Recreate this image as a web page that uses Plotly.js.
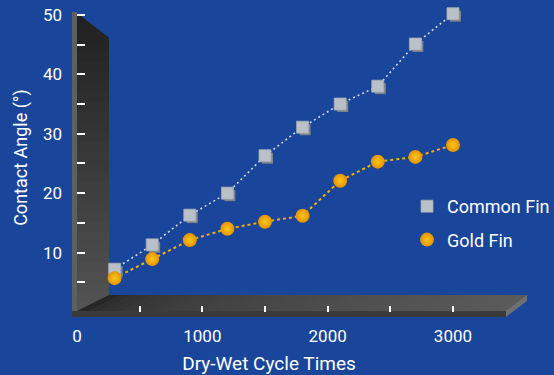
<!DOCTYPE html>
<html>
<head>
<meta charset="utf-8">
<script src="https://cdn.plot.ly/plotly-3.0.1.min.js"></script>
<style>html,body{margin:0;padding:0;background:#19459a;}#chart{width:554px;height:375px;}</style>
</head>
<body>
<div id="chart"></div>
<script>
// ---- data ----
const cycleTimes = [300, 600, 900, 1200, 1500, 1800, 2100, 2400, 2700, 3000];
const commonFin = [7.2, 11.3, 16.3, 20.0, 26.3, 31.1, 35.0, 38.0, 45.1, 50.2];
const goldFin = [5.7, 8.9, 12.1, 14.0, 15.2, 16.2, 22.1, 25.3, 26.1, 28.1];
const seriesNames = ['Common Fin', 'Gold Fin'];
const xLabelVals = [0, 1000, 2000, 3000];
const xTickMarkVals = [500, 1000, 1500, 2000, 2500, 3000];
const yLabelVals = [10, 20, 30, 40, 50];
const yMinorVals = [5, 15, 25, 35, 45];

// ---- geometry ----
const WIDTH = 554, HEIGHT = 375;
const L = 77, T = 3, B = 63;
const PW = 384, PH = HEIGHT - T - B;
const R = WIDTH - L - PW;
const BOTTOM = HEIGHT - B;
const XR = [0, 3064], YR = [0, 52];
const BG = '#19459a';
const px2x = p => (p - L) / PW;
const py2y = p => (BOTTOM - p) / PH;
const SH = 2.5;
const dx = SH * (XR[1] - XR[0]) / PW, dy = SH * (YR[1] - YR[0]) / PH;

function hex2rgb(h){h=h.replace('#','');return [0,2,4].map(i=>parseInt(h.substr(i,2),16));}
function lerpColor(a,b,t){const A=hex2rgb(a),C=hex2rgb(b);return 'rgb('+A.map((v,i)=>Math.round(v+(C[i]-v)*t)).join(',')+')';}
function poly(pts){return 'M'+pts.map(p=>px2x(p[0]).toFixed(5)+','+py2y(p[1]).toFixed(5)).join(' L')+' Z';}

const shapes = [];
shapes.push({type:'path', xref:'paper', yref:'paper', layer:'below', line:{width:0}, fillcolor:'#5e5f62',
  path: poly([[72,12],[77,12],[77,317],[72,317]])});
const NW = 30, wTop = 12, wBot = 312;
for (let i = 0; i < NW; i++) {
  const y0 = wTop + (wBot - wTop) * i / NW, y1 = wTop + (wBot - wTop) * (i + 1) / NW + 0.6;
  shapes.push({type:'path', xref:'paper', yref:'paper', layer:'below', line:{width:0},
    fillcolor: lerpColor('#202020', '#535353', i / (NW - 1)),
    path: poly([[77,y0],[109,y0],[109,y1],[77,y1]])});
}
shapes.push({type:'path', xref:'paper', yref:'paper', layer:'below', line:{width:0}, fillcolor:BG,
  path: poly([[76.5,5],[110,5],[110,38.5],[77,13]])});
const NF = 40;
for (let i = 0; i < NF; i++) {
  const t0 = i / NF, t1 = (i + 1) / NF + 0.003;
  const bx0 = 109 + t0 * (527 - 109), bx1 = 109 + t1 * (527 - 109);
  const fx0 = 77 + t0 * (506 - 77), fx1 = 77 + t1 * (506 - 77);
  shapes.push({type:'path', xref:'paper', yref:'paper', layer:'below', line:{width:0},
    fillcolor: lerpColor('#262626', '#5a5a5a', Math.sqrt(i / (NF - 1))),
    path: poly([[fx0,311],[bx0,295],[bx1,295],[fx1,311]])});
}
shapes.push({type:'path', xref:'paper', yref:'paper', layer:'below', line:{width:0}, fillcolor:'#3b3b3b',
  path: poly([[72,311],[506,311],[506,317],[72,317]])});
shapes.push({type:'path', xref:'paper', yref:'paper', layer:'below', line:{width:0}, fillcolor:'#6d7075',
  path: poly([[506,311],[527,295],[527,301],[506,317]])});

const FONT = 'Roboto, "DejaVu Sans", sans-serif';

const traces = [
  {type:'scatter', mode:'lines', x:cycleTimes, y:commonFin, xaxis:'x', yaxis:'y', showlegend:false, hoverinfo:'skip',
    line:{color:'#d3d9e2', width:1.6, dash:'2px,3px'}},
  {type:'scatter', mode:'lines', x:cycleTimes, y:goldFin, xaxis:'x', yaxis:'y', showlegend:false, hoverinfo:'skip',
    line:{color:'#f2b200', width:2, dash:'3px,3px'}},
  {type:'scatter', mode:'markers', x:cycleTimes, y:commonFin, xaxis:'x2', yaxis:'y2', showlegend:false, cliponaxis:false,
    marker:{symbol:'square', size:11, color:'#7c838d', line:{width:0}}},
  {type:'scatter', mode:'markers', name:seriesNames[0], legendgroup:'a', x:cycleTimes, y:commonFin, xaxis:'x3', yaxis:'y', cliponaxis:false,
    marker:{symbol:'square', size:12, color:'#bac0c8', line:{color:'#a3aab3', width:0.8}}},
  {type:'scatter', mode:'markers', name:seriesNames[1], legendgroup:'b', x:cycleTimes, y:goldFin, xaxis:'x3', yaxis:'y', cliponaxis:false,
    marker:{symbol:'circle', size:14, color:'#e29200', gradient:{type:'radial', color:'#ffc61c'}, line:{width:0}}}
];

const layout = {
  width: WIDTH, height: HEIGHT,
  margin:{l:L, r:R, t:T, b:B, pad:0, autoexpand:false},
  paper_bgcolor: BG, plot_bgcolor:'rgba(0,0,0,0)',
  font:{family:FONT, color:'#ffffff', size:17},
  showlegend:true,
  legend:{x:px2x(407), y:py2y(188), xanchor:'left', yanchor:'top', bgcolor:'rgba(0,0,0,0)',
    font:{family:FONT, size:18, color:'#ffffff'}, traceorder:'grouped', tracegroupgap:7},
  xaxis:{range:XR, showgrid:false, zeroline:false, showline:false,
    tickmode:'array', tickvals:xLabelVals, ticktext:xLabelVals.map(String), ticks:'',
    ticklabelstandoff:12, tickfont:{family:FONT, size:17, color:'#ffffff'},
    title:{text:'Dry-Wet Cycle Times', font:{family:FONT, size:19, color:'#ffffff'}, standoff:18}},
  xaxis2:{range:[XR[0]-dx, XR[1]-dx], overlaying:'x', anchor:'y2', visible:false},
  yaxis2:{range:[YR[0]+dy, YR[1]+dy], overlaying:'y', anchor:'x2', visible:false},
  xaxis3:{range:XR, overlaying:'x', anchor:'y', side:'bottom', showgrid:false, zeroline:false, showline:false,
    tickmode:'array', tickvals:xTickMarkVals, ticks:'inside', ticklen:6, tickwidth:2, tickcolor:'#ffffff', showticklabels:false},
  yaxis:{range:YR, showgrid:false, zeroline:false, showline:false,
    tickmode:'array', tickvals:yLabelVals, ticktext:yLabelVals.map(String), ticks:'inside', ticklen:8, tickwidth:2, tickcolor:'#ffffff',
    minor:{tickmode:'array', tickvals:yMinorVals, ticks:'inside', ticklen:8, tickwidth:2, tickcolor:'#ffffff'},
    ticklabelstandoff:14, tickfont:{family:FONT, size:17, color:'#ffffff'},
    title:{text:'Contact Angle (°)', font:{family:FONT, size:18, color:'#ffffff'}, standoff:10}},
  shapes: shapes
};

Plotly.newPlot('chart', traces, layout, {displayModeBar:false, staticPlot:true});
</script>
</body>
</html>
